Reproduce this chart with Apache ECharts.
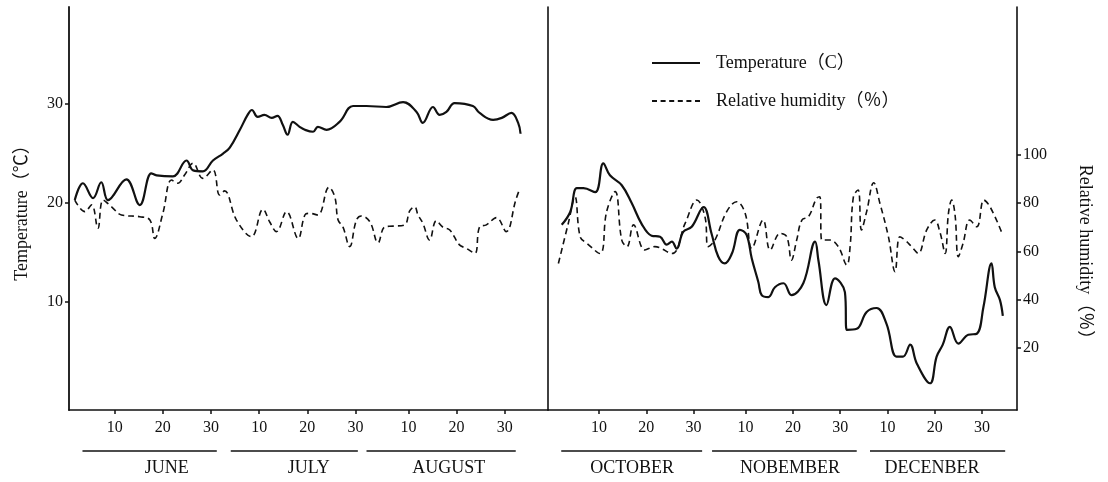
<!DOCTYPE html>
<html>
<head>
<meta charset="utf-8">
<script src="https://cdn.jsdelivr.net/npm/echarts@6/dist/echarts.min.js"></script>
<style>
html,body{margin:0;padding:0;background:#fff;}
#chart{width:1108px;height:482px;}
</style>
</head>
<body>
<div id="chart"></div>
<script>
// ---------- DATA ----------
// day index: summer panel counts from May 31 (June 1 = 1); autumn panel from Sep 30 (Oct 1 = 1)
const tempSummer = [
  [1.7,20.3],[3.4,22.0],[5.5,20.5],[7.2,22.1],[8.6,20.3],[12.4,22.4],[15.2,19.8],[17.6,23.0],
  [18.7,22.8],[22.1,22.7],[24.9,24.3],[26.3,23.3],[28.3,23.2],[30.4,24.3],[32.5,25.0],[33.9,25.6],
  [36.0,27.4],[37.6,28.9],[38.5,29.4],[39.7,28.7],[41.1,28.9],[42.6,28.6],[43.8,28.8],[44.9,27.9],
  [45.9,26.9],[47.0,28.2],[48.4,27.7],[49.5,27.4],[51.2,27.2],[52.2,27.7],[54.0,27.4],[56.7,28.2],
  [59.5,29.8],[62.3,29.8],[66.4,29.7],[69.9,30.2],[72.7,29.2],[74.0,28.1],[76.1,29.7],[77.5,28.9],
  [78.9,29.2],[80.6,30.1],[84.4,29.8],[85.8,29.1],[88.6,28.4],[90.4,28.6],[92.4,29.1],[93.8,28.1],[94.3,27.0]
];
const humSummer = [
  [1.7,81.3],[3.8,76.5],[5.2,79.3],[6.5,69.6],[7.6,81.3],[9.4,78.4],[11.4,75.1],[15.2,74.4],
  [17.3,73.0],[18.3,65.4],[20.0,75.8],[21.8,89.6],[23.1,88.3],[24.5,91.7],[26.3,96.6],[28.3,90.3],
  [30.4,93.8],[31.8,83.4],[32.8,85.1],[35.3,73.0],[38.4,66.1],[40.8,77.5],[42.2,72.2],[43.6,68.2],
  [45.7,76.5],[48.1,65.4],[49.5,75.1],[50.5,75.8],[52.2,75.1],[54.5,86.6],[55.7,82.7],[56.4,73.0],
  [57.4,70.2],[58.8,62.0],[60.2,73.0],[61.2,74.7],[63.0,72.3],[64.7,63.6],[66.1,70.2],[67.8,70.5],
  [70.2,71.0],[71.3,76.9],[72.3,78.5],[73.0,75.1],[74.0,71.7],[75.4,64.7],[76.8,72.7],[78.2,70.0],
  [79.6,68.9],[81.6,62.7],[83.0,61.3],[84.8,59.2],[85.8,70.2],[87.2,71.0],[89.3,74.0],[91.3,68.2],
  [93.3,81.3],[94.1,85.8]
];
const tempAutumn = [
  [2.1,17.8],[3.9,19.1],[5.3,21.5],[6.7,21.5],[9.2,21.1],[10.9,24.0],[12.3,22.8],[14.8,21.8],
  [16.9,20.0],[19.0,17.9],[21.1,16.7],[22.9,16.6],[24.3,15.8],[25.4,16.1],[26.4,15.4],[27.8,17.1],
  [29.6,17.6],[32.1,19.6],[33.8,16.9],[35.2,14.6],[36.6,13.9],[38.1,14.9],[39.8,17.3],[41.2,16.8],
  [42.3,14.4],[43.7,12.0],[44.4,10.7],[45.8,10.5],[47.2,11.5],[49.0,11.9],[50.7,10.7],[53.2,11.9],
  [55.7,16.1],[56.4,14.2],[58.1,9.7],[59.9,12.4],[62.0,11.0],[62.4,7.2],[64.5,7.3],[66.6,9.0],
  [68.7,9.4],[70.8,7.8],[72.9,4.5],[74.3,4.5],[75.8,5.7],[77.2,3.8],[80.0,1.8],[81.4,4.5],
  [82.7,5.7],[84.2,7.5],[86.0,5.8],[88.1,6.7],[89.9,6.8],[91.3,9.5],[93.0,13.9],[93.7,11.5],
  [94.8,10.2],[95.4,8.6]
];
const humAutumn = [
  [1.4,55.0],[3.5,71.7],[4.9,82.7],[6.0,66.1],[7.4,63.4],[10.2,59.1],[11.6,76.5],[13.4,84.8],
  [14.8,64.7],[15.9,62.0],[17.3,71.0],[19.7,60.6],[21.8,62.0],[25.4,59.1],[28.2,71.6],[30.7,81.3],
  [32.4,74.4],[33.1,62.0],[34.5,64.7],[37.0,76.5],[39.1,80.6],[40.9,75.8],[42.3,61.3],[44.7,73.0],
  [46.2,60.6],[48.3,67.5],[49.7,66.1],[50.7,56.4],[51.8,64.7],[52.9,73.0],[54.3,74.4],[56.0,82.0],
  [56.7,82.7],[57.1,64.7],[58.8,64.7],[60.6,62.0],[62.4,54.4],[63.1,62.0],[63.8,82.7],[64.8,85.5],
  [65.5,68.9],[66.6,76.5],[68.1,88.5],[69.4,80.0],[71.2,66.1],[72.6,51.6],[73.6,66.1],[74.7,64.7],
  [76.1,62.0],[77.5,59.2],[79.3,68.9],[81.0,73.0],[82.1,68.0],[83.2,59.2],[83.9,75.8],[84.6,81.3],
  [85.3,75.1],[86.0,57.8],[87.0,63.4],[88.4,73.0],[89.9,70.2],[91.4,81.3],[92.7,78.5],[95.1,68.2]
];
const summerTickDays = [10,20,30,40,50,60,71,81,91];
const autumnTickDays = [10,20,30,41,51,61,71,81,91];
const dayLabels = ['10','20','30','10','20','30','10','20','30'];
const tempTicks = [10,20,30];
const humTicks = [20,40,60,80,100];
const summerMonths = ['JUNE','JULY','AUGUST'];
const autumnMonths = ['OCTOBER','NOBEMBER','DECENBER'];
const tempName = 'Temperature（C）';
const humName = 'Relative humidity（％）';
const tempAxisName = 'Temperature（℃）';

// ---------- LAYOUT ----------
const FONT = '"Liberation Serif", "Noto Sans CJK SC", serif';
const INK = '#111';
const summerSpans = [[3.3,31.2],[34.1,60.5],[62.3,93.3]];
const summerLabelAt = [20.8,50.3,79.4];
const autumnSpans = [[2.0,31.8],[33.9,64.5],[67.3,95.9]];
const autumnLabelAt = [17.0,50.4,80.4];

// legend icons: solid bar and dashed bar drawn as filled paths
const solidIcon = 'path://M0,0h48v2h-48z';
let dashIcon = 'path://';
for (let i = 0; i < 6; i++) { dashIcon += 'M' + (i*8.6) + ',0h5v2h-5z'; }

const chart = echarts.init(document.getElementById('chart'), null, {renderer:'canvas'});

function xAx(grid, min, max, ticks){
  return {
    type:'value', gridIndex:grid, min:min, max:max,
    axisLine:{show:true, onZero:false, lineStyle:{color:INK, width:1.6}},
    axisTick:{show:true, inside:false, length:4, customValues:ticks, lineStyle:{color:INK, width:1.5}},
    axisLabel:{show:true, margin:10, customValues:ticks, color:INK, fontFamily:FONT, fontSize:16,
      formatter:function(v){ const i = ticks.indexOf(v); return i>=0 ? dayLabels[i] : ''; }},
    splitLine:{show:false}
  };
}
const TMIN=-0.9, TMAX=39.8, HMIN=-5.8, HMAX=161.4;

const lineT = {color:INK, width:2.2, type:'solid'};
const lineH = {color:INK, width:1.6, type:[6,4]};

chart.setOption({
  animation:false,
  backgroundColor:'#fff',
  grid:[
    {left:69, right:1108-548, top:7, bottom:482-410},
    {left:548, right:1108-1017, top:7, bottom:482-410}
  ],
  xAxis:[ xAx(0,0.5,100,summerTickDays), xAx(1,-0.8,98.4,autumnTickDays) ],
  yAxis:[
    {type:'value', gridIndex:0, position:'left', min:TMIN, max:TMAX,
     name:tempAxisName, nameLocation:'middle', nameGap:38, nameRotate:90,
     nameTextStyle:{color:INK, fontFamily:FONT, fontSize:18},
     axisLine:{show:true, onZero:false, lineStyle:{color:INK, width:1.8}},
     axisTick:{show:true, inside:false, length:4, customValues:tempTicks, lineStyle:{color:INK, width:1.5}},
     axisLabel:{show:true, margin:6, customValues:tempTicks, color:INK, fontFamily:FONT, fontSize:16},
     splitLine:{show:false}},
    {type:'value', gridIndex:0, position:'right', min:HMIN, max:HMAX, show:false},
    {type:'value', gridIndex:1, position:'left', min:TMIN, max:TMAX,
     axisLine:{show:true, onZero:false, lineStyle:{color:INK, width:1.6}},
     axisTick:{show:false}, axisLabel:{show:false}, splitLine:{show:false}},
    {type:'value', gridIndex:1, position:'right', min:HMIN, max:HMAX,
     name:humName, nameLocation:'middle', nameGap:59, nameRotate:-90,
     nameTextStyle:{color:INK, fontFamily:FONT, fontSize:18, padding:[0,0,0,96]},
     axisLine:{show:true, onZero:false, lineStyle:{color:INK, width:1.6}},
     axisTick:{show:true, inside:false, length:4, customValues:humTicks, lineStyle:{color:INK, width:1.5}},
     axisLabel:{show:true, margin:6, customValues:humTicks, color:INK, fontFamily:FONT, fontSize:16},
     splitLine:{show:false}}
  ],
  legend:{
    orient:'vertical', left:647, top:47, itemWidth:48, itemHeight:2, itemGap:16,
    symbolKeepAspect:false,
    data:[{name:tempName, icon:solidIcon}, {name:humName, icon:dashIcon}],
    itemStyle:{color:INK, borderWidth:0},
    textStyle:{color:INK, fontFamily:FONT, fontSize:18, lineHeight:22, padding:[0,0,0,11]}
  },
  series:[
    {name:tempName, type:'line', xAxisIndex:0, yAxisIndex:0, data:tempSummer, smooth:0.4, symbol:'none', lineStyle:lineT, itemStyle:{color:INK}},
    {name:humName, type:'line', xAxisIndex:0, yAxisIndex:1, data:humSummer, smooth:0.4, symbol:'none', lineStyle:lineH, itemStyle:{color:INK}},
    {name:tempName, type:'line', xAxisIndex:1, yAxisIndex:2, data:tempAutumn, smooth:0.4, symbol:'none', lineStyle:lineT, itemStyle:{color:INK}},
    {name:humName, type:'line', xAxisIndex:1, yAxisIndex:3, data:humAutumn, smooth:0.4, symbol:'none', lineStyle:lineH, itemStyle:{color:INK}}
  ]
});

// month underlines and names positioned through the x scales
function monthMarks(){
  const g = [];
  const lineY = chart.convertToPixel({gridIndex:0}, [0, TMIN])[1] + 41;
  const textY = lineY + 17;
  [[0,summerMonths,summerSpans,summerLabelAt],[1,autumnMonths,autumnSpans,autumnLabelAt]].forEach(function(p){
    const ax = p[0];
    p[1].forEach(function(name, i){
      const x1 = chart.convertToPixel({xAxisIndex:ax}, p[2][i][0]);
      const x2 = chart.convertToPixel({xAxisIndex:ax}, p[2][i][1]);
      const xc = chart.convertToPixel({xAxisIndex:ax}, p[3][i]);
      g.push({type:'line', silent:true, shape:{x1:x1, y1:lineY, x2:x2, y2:lineY}, style:{stroke:INK, lineWidth:1.6}});
      g.push({type:'text', silent:true, x:xc, y:textY,
        style:{text:name, fill:INK, font:'18px ' + FONT, align:'center', verticalAlign:'middle', textAlign:'center', textVerticalAlign:'middle'}});
    });
  });
  chart.setOption({graphic:g});
}
monthMarks();
</script>
</body>
</html>
